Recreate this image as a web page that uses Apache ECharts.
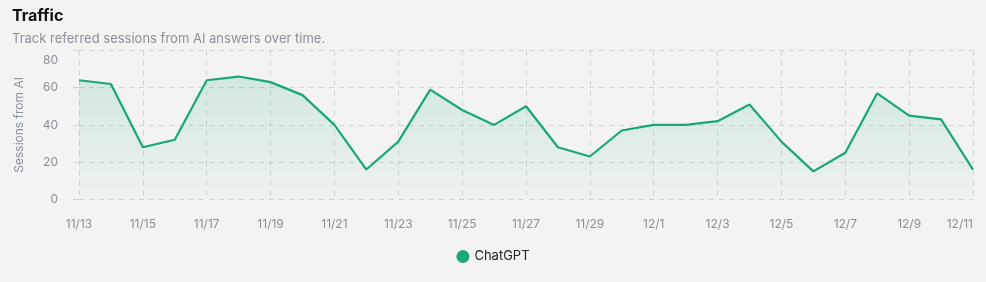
<!DOCTYPE html>
<html>
<head>
<meta charset="utf-8">
<script src="https://cdn.jsdelivr.net/npm/echarts@6/dist/echarts.min.js"></script>
<style>
html,body{margin:0;padding:0;background:#f3f3f3;}
#c{width:986px;height:282px;}
</style>
</head>
<body>
<div id="c"></div>
<script>
const categories = ['11/13','11/14','11/15','11/16','11/17','11/18','11/19','11/20','11/21','11/22','11/23','11/24','11/25','11/26','11/27','11/28','11/29','11/30','12/1','12/2','12/3','12/4','12/5','12/6','12/7','12/8','12/9','12/10','12/11'];
const chatgpt = [64,62,28,32,64,66,63,56,40,16,31,59,48,40,50,28,23,37,40,40,42,51,31,15,25,57,45,43,16];
const yTicks = [0,20,40,60,80];
const seriesName = 'ChatGPT';

const FONT = 'Inter, "Noto Sans", sans-serif';
const GREEN = '#18a874';
const yMax = yTicks[yTicks.length-1];
const chart = echarts.init(document.getElementById('c'), null, {renderer:'canvas'});
chart.setOption({
  backgroundColor:'#f3f3f3',
  animation:false,
  title:{
    text:'Traffic',
    subtext:'Track referred sessions from AI answers over time.',
    left:7, top:3,
    itemGap:9,
    textStyle:{fontFamily:FONT,fontSize:16,fontWeight:700,color:'#111'},
    subtextStyle:{fontFamily:FONT,fontSize:13,color:'#8b9098'}
  },
  legend:{
    bottom:14, left:'center',
    icon:'circle', itemWidth:13, itemHeight:13, itemGap:10,
    textStyle:{fontFamily:FONT,fontSize:13,color:'#222'},
    data:[seriesName]
  },
  grid:{left:79,right:13,top:50.5,bottom:82.7,containLabel:false},
  xAxis:{
    type:'category',
    data:categories,
    boundaryGap:false,
    axisLine:{show:false},
    axisTick:{show:false},
    axisLabel:{interval:1,margin:19,fontFamily:FONT,fontSize:12,color:'#8b9098',alignMaxLabel:'right'},
    splitLine:{show:true,interval:1,lineStyle:{type:[5,5],color:'#cfd2d6',width:1}}
  },
  yAxis:{
    type:'value',
    min:yTicks[0], max:yMax, interval:yTicks[1]-yTicks[0],
    name:'Sessions from AI',
    nameLocation:'middle',
    nameGap:54,
    nameTextStyle:{fontFamily:FONT,fontSize:12,color:'#8b9098'},
    axisLine:{show:false},
    axisTick:{show:true,length:6,lineStyle:{color:'#cfd2d6'}},
    axisLabel:{
      margin:21,fontFamily:FONT,fontSize:12,color:'#8b9098',verticalAlignMaxLabel:'top',
      formatter:function(v){ return v===yMax ? '{t|'+v+'}' : String(v); },
      rich:{t:{fontFamily:FONT,fontSize:12,color:'#8b9098',padding:[4,0,0,0]}}
    },
    splitLine:{show:true,lineStyle:{type:[5,5],color:'#cfd2d6',width:1}}
  },
  series:[{
    name:seriesName,
    type:'line',
    data:chatgpt,
    showSymbol:false,
    symbol:'circle',
    itemStyle:{color:GREEN},
    lineStyle:{color:GREEN,width:2.2},
    areaStyle:{color:new echarts.graphic.LinearGradient(0,0,0,1,[
      {offset:0,color:'rgba(24,168,116,0.22)'},
      {offset:1,color:'rgba(24,168,116,0.03)'}
    ])}
  }]
});
</script>
</body>
</html>
